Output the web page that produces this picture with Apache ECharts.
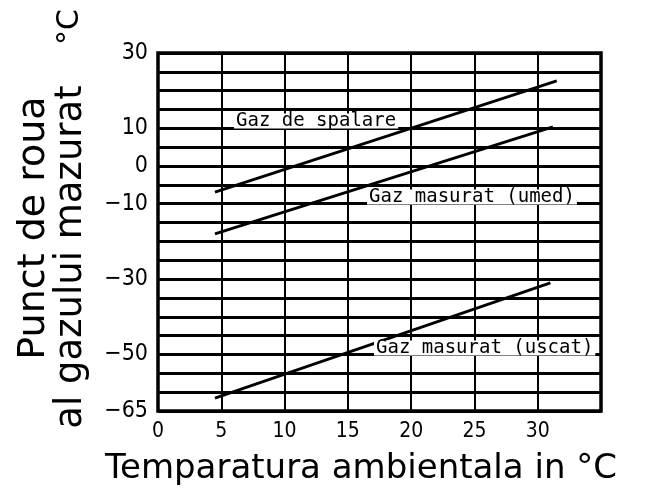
<!DOCTYPE html>
<html>
<head>
<meta charset="utf-8">
<script src="https://cdn.jsdelivr.net/npm/echarts@6/dist/echarts.min.js"></script>
<style>
  html, body { margin: 0; padding: 0; background: #fff; }
  #chart { width: 667px; height: 493px; }
</style>
</head>
<body>
<div id="chart"></div>
<script>
// Dew point lines: ambient temperature (x) and dew point (y) at each end
const spalareX = [4.5, 31.5];
const spalareY = [-6.9, 22.6];
const umedX = [4.5, 31.2];
const umedY = [-18.0, 10.4];
const uscatX = [4.5, 31.0];
const uscatY = [-61.6, -31.0];

const seriesNames = ['Gaz de spalare', 'Gaz masurat (umed)', 'Gaz masurat (uscat)'];
const xTickLabels = [0, 5, 10, 15, 20, 25, 30];
const yTickLabels = [30, 10, 0, -10, -30, -50, -65];

const xTitle = 'Temparatura ambientala in °C';
const yTitleLine1 = 'Punct de roua';
const yTitleLine2 = 'al gazului mazurat';
const yTitleUnit = '°C';

const pairs = (xs, ys) => xs.map((x, i) => [x, ys[i]]);

const chart = echarts.init(document.getElementById('chart'), null, { renderer: 'canvas' });

const lineSeries = (name, xs, ys) => ({
  name: name,
  type: 'line',
  data: pairs(xs, ys),
  showSymbol: false,
  silent: true,
  z: 5,
  lineStyle: { color: '#000', width: 2.8 }
});

const lineLabel = (text, x, y) => ({
  type: 'text',
  x: x,
  y: y,
  z: 100,
  style: {
    text: text,
    font: '19px "DejaVu Sans Mono"',
    fill: '#000',
    backgroundColor: '#fff',
    padding: [0, 2],
    lineHeight: 15,
    align: 'left',
    verticalAlign: 'middle'
  }
});

chart.setOption({
  animation: false,
  backgroundColor: '#fff',
  grid: {
    left: 158, right: 66, top: 53, bottom: 82,
    show: true,
    borderColor: '#000',
    borderWidth: 3.5,
    backgroundColor: 'transparent'
  },
  xAxis: {
    type: 'value',
    min: 0, max: 35, interval: 5,
    axisLine: { show: false },
    axisTick: { show: false },
    splitLine: { show: true, lineStyle: { color: '#000', width: 2 } },
    axisLabel: {
      margin: 10,
      color: '#000',
      fontFamily: 'DejaVu Sans Condensed',
      fontSize: 21,
      formatter: v => xTickLabels.includes(v) ? String(v) : ''
    }
  },
  yAxis: {
    type: 'value',
    min: -65, max: 30, interval: 5,
    axisLine: { show: false },
    axisTick: { show: false },
    splitLine: { show: true, lineStyle: { color: '#000', width: 3 } },
    axisLabel: {
      margin: 10,
      color: '#000',
      fontFamily: 'DejaVu Sans Condensed',
      fontSize: 23,
      formatter: v => yTickLabels.includes(v) ? (v < 0 ? '\u2212' + Math.abs(v) : String(v)) : ''
    }
  },
  series: [
    lineSeries(seriesNames[0], spalareX, spalareY),
    lineSeries(seriesNames[1], umedX, umedY),
    lineSeries(seriesNames[2], uscatX, uscatY)
  ],
  graphic: [
    lineLabel(seriesNames[0], 234, 121),
    lineLabel(seriesNames[1], 367, 197),
    lineLabel(seriesNames[2], 374, 348),
    {
      type: 'text', x: 361, y: 469,
      style: { text: xTitle, font: '34px "DejaVu Sans"', fill: '#000', align: 'center', verticalAlign: 'middle' }
    },
    {
      type: 'text', x: 34, y: 228, rotation: Math.PI / 2,
      style: { text: yTitleLine1, font: '38px "DejaVu Sans"', fill: '#000', align: 'center', verticalAlign: 'middle' }
    },
    {
      type: 'text', x: 71, y: 257, rotation: Math.PI / 2,
      style: { text: yTitleLine2, font: '37px "DejaVu Sans"', fill: '#000', align: 'center', verticalAlign: 'middle' }
    },
    {
      type: 'text', x: 70, y: 27, rotation: Math.PI / 2,
      style: { text: yTitleUnit, font: '30px "DejaVu Sans"', fill: '#000', align: 'center', verticalAlign: 'middle' }
    }
  ]
});
</script>
</body>
</html>
